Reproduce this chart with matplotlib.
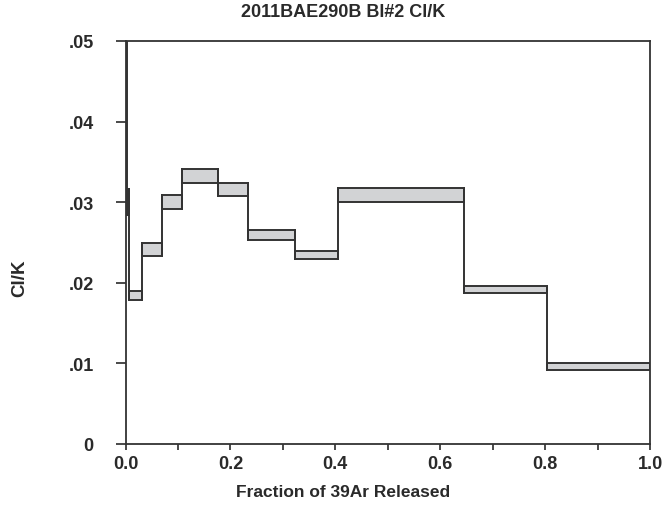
import matplotlib.pyplot as plt
from matplotlib.patches import Rectangle
from matplotlib.ticker import MultipleLocator, FixedFormatter, FixedLocator

plt.rcParams['font.family'] = ['Liberation Sans', 'DejaVu Sans']
plt.rcParams['font.weight'] = 'bold'

# Step boundaries (cumulative fraction of 39Ar released)
cum_frac = [0.0, 0.002, 0.0067, 0.031, 0.069, 0.107, 0.176, 0.233,
            0.324, 0.405, 0.645, 0.803, 1.0]
# Cl/K value and 1-sigma error of each heating step
clk = [0.120, 0.0300, 0.01843, 0.02412, 0.0300, 0.03323, 0.03160,
       0.02597, 0.02345, 0.03093, 0.01914, 0.00962]
clk_err = [0.030, 0.0016, 0.00053, 0.00083, 0.0009, 0.00089, 0.00079,
           0.00062, 0.00050, 0.00087, 0.00044, 0.00040]

y_ticks = [0, 0.01, 0.02, 0.03, 0.04, 0.05]
y_tick_labels = ['0', '.01', '.02', '.03', '.04', '.05']
x_ticks = [0.0, 0.2, 0.4, 0.6, 0.8, 1.0]

edge = '#333333'
fill = '#d2d3d5'
txt = '#2a2a2a'

fig = plt.figure(figsize=(6.62, 5.06), dpi=100)
ax = fig.add_axes([0.1896, 0.1206, 0.7924, 0.7964])

# boxes for each step
for i in range(len(clk)):
    lo = clk[i] - clk_err[i]
    hi = clk[i] + clk_err[i]
    ax.add_patch(Rectangle((cum_frac[i], lo), cum_frac[i + 1] - cum_frac[i], hi - lo,
                           facecolor=fill, edgecolor=edge, linewidth=1.4, zorder=2))

# vertical joins between neighbouring steps
for i in range(1, len(clk)):
    ymin = min(clk[i - 1] - clk_err[i - 1], clk[i] - clk_err[i])
    ymax = max(clk[i - 1] + clk_err[i - 1], clk[i] + clk_err[i])
    ax.plot([cum_frac[i], cum_frac[i]], [ymin, ymax], color=edge, lw=1.4, zorder=3)

ax.set_xlim(0, 1)
ax.set_ylim(0, 0.05)

ax.xaxis.set_major_locator(FixedLocator(x_ticks))
ax.xaxis.set_minor_locator(MultipleLocator(0.1))
ax.set_xticklabels(['%.1f' % v for v in x_ticks])
ax.yaxis.set_major_locator(FixedLocator(y_ticks))
ax.yaxis.set_major_formatter(FixedFormatter(y_tick_labels))

ax.tick_params(axis='x', which='both', direction='out', length=4, width=1.2,
               colors=txt, labelsize=13, pad=4)
ax.tick_params(axis='y', which='both', direction='out', length=7, width=1.2,
               colors=txt, labelsize=13, pad=16)
for s in ax.spines.values():
    s.set_color(edge)
    s.set_linewidth(1.3)

ax.set_xlabel('Fraction of 39Ar Released', fontsize=12.5, fontweight='bold',
              color=txt)
ax.xaxis.set_label_coords(0.415, -0.099)
fig.text(0.03, 0.45, 'Cl/K', rotation=90, fontsize=13.5, color=txt,
         ha='center', va='center')
fig.text(0.518, 0.975, '2011BAE290B Bl#2 Cl/K', fontsize=13, color=txt,
         ha='center', va='center')

fig.savefig('out.png', dpi=100)
